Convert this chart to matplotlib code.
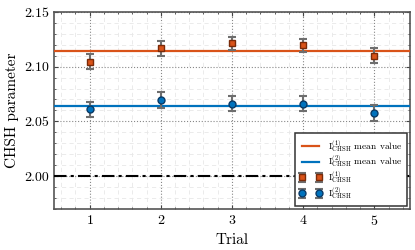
import matplotlib
matplotlib.use("Agg")
import matplotlib.pyplot as plt
from matplotlib.ticker import MultipleLocator

trials = [1, 2, 3, 4, 5]
chsh1 = [2.1045, 2.1167, 2.1215, 2.1194, 2.1100]
chsh1_err = [0.007, 0.007, 0.006, 0.006, 0.007]
chsh2 = [2.0609, 2.0694, 2.0661, 2.0661, 2.0576]
chsh2_err = [0.007, 0.007, 0.007, 0.007, 0.007]
classical_bound = 2.0

plt.rcParams["font.family"] = "cmr10"
plt.rcParams["mathtext.fontset"] = "cm"
plt.rcParams["axes.formatter.use_mathtext"] = True

orange = "#D95319"
blue = "#0072BD"

fig, ax = plt.subplots(figsize=(4.15, 2.5), dpi=100)

mean1 = sum(chsh1) / len(chsh1)
mean2 = sum(chsh2) / len(chsh2)

ax.axhline(mean1, color=orange, lw=1.6, label=r"$\mathrm{I}_{\mathrm{CHSH}}^{(1)}$ mean value", zorder=3)
ax.axhline(mean2, color=blue, lw=1.6, label=r"$\mathrm{I}_{\mathrm{CHSH}}^{(2)}$ mean value", zorder=3)
ax.axhline(classical_bound, color="black", lw=1.5, ls=(0, (6, 2, 1.5, 2)), zorder=3)

ax.errorbar(trials, chsh1, yerr=chsh1_err, fmt="s", color=orange, mec="#7a2a08", ms=5,
            ecolor="#6e6e6e", elinewidth=1.5, capsize=3, capthick=1.5,
            label=r"$\mathrm{I}_{\mathrm{CHSH}}^{(1)}$", zorder=4)
ax.errorbar(trials, chsh2, yerr=chsh2_err, fmt="o", color=blue, mec="#0a3a66", ms=5,
            ecolor="#6e6e6e", elinewidth=1.5, capsize=3, capthick=1.5,
            label=r"$\mathrm{I}_{\mathrm{CHSH}}^{(2)}$", zorder=4)

ax.set_xlim(0.5, 5.5)
ax.set_ylim(1.97, 2.15)
ax.set_xticks(trials)
ax.set_yticks([2.00, 2.05, 2.10, 2.15])
ax.yaxis.set_major_formatter(matplotlib.ticker.FormatStrFormatter("%.2f"))
ax.xaxis.set_minor_locator(MultipleLocator(0.2))
ax.yaxis.set_minor_locator(MultipleLocator(0.01))
ax.grid(which="major", ls=":", color="#888888", lw=0.8)
ax.grid(which="minor", ls=(0, (5, 4)), color="#e8e8e8", lw=0.6)
ax.tick_params(which="both", direction="in", top=True, right=True, labelsize=10, colors="#444444", labelcolor="black")
ax.tick_params(which="major", length=3)
ax.tick_params(which="minor", length=1.5)
for s in ax.spines.values():
    s.set_color("#555555")
    s.set_linewidth(1.2)

ax.set_xlabel("Trial", fontsize=11)
ax.set_ylabel("CHSH parameter", fontsize=11)

leg = ax.legend(loc="lower right", fontsize=6.8, numpoints=2, fancybox=False,
                framealpha=1, edgecolor="#333333", borderaxespad=0.3, handlelength=2.4,
                labelspacing=0.0, borderpad=0.5, handletextpad=0.6)
leg.get_frame().set_linewidth(1.1)

fig.subplots_adjust(left=0.13, right=0.988, top=0.952, bottom=0.165)
fig.savefig("out.png", dpi=100)
